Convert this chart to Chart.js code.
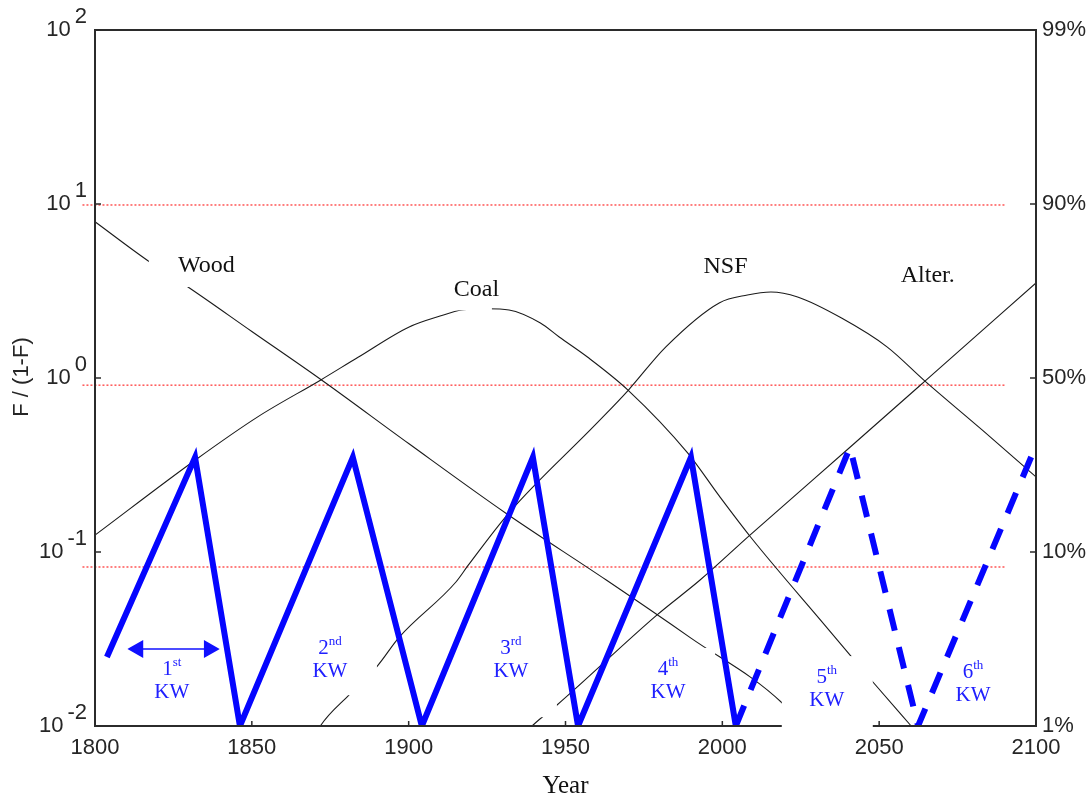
<!DOCTYPE html>
<html>
<head>
<meta charset="utf-8">
<script src="https://cdn.jsdelivr.net/npm/chart.js@4.4.1/dist/chart.umd.min.js"></script>
<style>
  html, body { margin: 0; padding: 0; background: #fff; }
  #wrap { width: 1092px; height: 798px; position: relative; }
</style>
</head>
<body>
<div id="wrap"><canvas id="myChart"></canvas></div>
<script>
// axis ticks
const xTicks = [1800, 1850, 1900, 1950, 2000, 2050, 2100];
const yTicks = [0.01, 0.1, 1, 10, 100];
const yExp = ['-2', '-1', '0', '1', '2'];
const rightLabels = ['1%', '10%', '50%', '90%', '99%'];

// substitution curves, F/(1-F)
const woodYears  = [1800, 1817, 1830, 1850, 1872, 1900, 1931, 1963, 1990, 2019, 2035];
const woodValues = [7.9, 4.7, 3.3, 1.85, 0.98, 0.42, 0.167, 0.069, 0.032, 0.0136, 0.0062];

const coalYears  = [1800, 1832, 1852, 1872, 1884, 1900, 1910, 1917, 1925, 1932, 1942, 1948, 1957, 1970, 1989, 1999, 2009, 2034, 2041, 2048, 2060, 2066];
const coalValues = [0.125, 0.338, 0.60, 0.975, 1.32, 1.96, 2.27, 2.46, 2.5, 2.46, 2.07, 1.72, 1.32, 0.85, 0.37, 0.21, 0.122, 0.0356, 0.0252, 0.0179, 0.0101, 0.0076];

const nsfYears  = [1868, 1872, 1881, 1890, 1897, 1915, 1919, 1932, 1960, 1970, 1982, 1999, 2008, 2015.5, 2024, 2038, 2052.5, 2064.6, 2083, 2100];
const nsfValues = [0.0074, 0.0101, 0.0151, 0.0221, 0.0324, 0.067, 0.084, 0.168, 0.55, 0.85, 1.51, 2.7, 3.0, 3.12, 2.92, 2.21, 1.51, 0.96, 0.50, 0.27];

const alterYears  = [1936, 1939.6, 1947.3, 1979.2, 1992.9, 2008.8, 2040.7, 2064.6, 2100];
const alterValues = [0.0086, 0.0101, 0.0132, 0.0435, 0.069, 0.125, 0.40, 0.96, 3.52];

// Kondratiev waves
const kwSolidYears  = [1803.8, 1831.9, 1846.2, 1882.2, 1904.2, 1939.6, 1954, 1990, 2004.3];
const kwSolidValues = [0.0249, 0.35, 0.01, 0.35, 0.01, 0.35, 0.01, 0.35, 0.01];
const kwDashedYears  = [2004.3, 2040.7, 2062.4, 2098.7];
const kwDashedValues = [0.01, 0.40, 0.01, 0.36];

const arrowYears  = [1813.7, 1836.4];
const arrowValues = [0.0277, 0.0277];

// red reference levels (90%, 50%, 10%)
const redLevels = [9.87, 0.91, 0.082];
const redSpan = [1796, 2090];

const pts = (xs, ys) => xs.map((x, i) => ({ x: x, y: ys[i] }));

function curve(xs, ys) {
  return {
    data: pts(xs, ys),
    borderColor: '#1a1a1a',
    borderWidth: 1.1,
    pointRadius: 0,
    cubicInterpolationMode: 'monotone'
  };
}

const datasets = [
  {
    data: pts(arrowYears, arrowValues),
    borderColor: '#1010ff',
    backgroundColor: '#1010ff',
    borderWidth: 1.5,
    pointStyle: 'triangle',
    pointRadius: 9,
    pointRotation: [270, 90],
    pointBackgroundColor: '#1010ff',
    pointBorderColor: '#1010ff'
  },
  {
    data: pts(kwSolidYears, kwSolidValues),
    borderColor: '#0505ff',
    borderWidth: 6,
    borderJoinStyle: 'miter',
    pointRadius: 0,
    clip: 0
  },
  {
    data: pts(kwDashedYears, kwDashedValues),
    borderColor: '#0505ff',
    borderWidth: 6,
    borderDash: [22, 17],
    borderJoinStyle: 'miter',
    pointRadius: 0,
    clip: 0
  },
  curve(woodYears, woodValues),
  curve(coalYears, coalValues),
  curve(nsfYears, nsfValues),
  curve(alterYears, alterValues)
];

redLevels.forEach(v => {
  datasets.push({
    data: pts(redSpan, [v, v]),
    borderColor: '#ff0000',
    borderWidth: 1,
    borderDash: [2, 2],
    pointRadius: 0,
    clip: false
  });
});

// text labels, anchored in data units; box = white patch [left, top, right, bottom] offsets in px
const nameLabels = [
  { text: 'Wood',   x: 1835.5, y: 4.43, box: [-57.5, -20.5, 38.5, 21.5] },
  { text: 'Coal',   x: 1921.6, y: 3.23, box: [-36, -17.5, 15.5, 21] },
  { text: 'NSF',    x: 2001,   y: 4.37 },
  { text: 'Alter.', x: 2065.5, y: 3.85 }
];
const kwLabels = [
  { n: '1', sup: 'st', x: 1824.5, y: 0.021 },
  { n: '2', sup: 'nd', x: 1874.9, y: 0.028,  box: [-40, -28, 47, 47] },
  { n: '3', sup: 'rd', x: 1932.6, y: 0.028,  box: [-41, -28, 46, 69] },
  { n: '4', sup: 'th', x: 1982.7, y: 0.021,  box: [-38, -22, 47, 40] },
  { n: '5', sup: 'th', x: 2033.3, y: 0.0191, box: [-45, -21, 46, 51] },
  { n: '6', sup: 'th', x: 2079.9, y: 0.0204 }
];

const overlay = {
  id: 'overlay',
  afterDraw(chart) {
    const ctx = chart.ctx;
    const a = chart.chartArea;
    const x = chart.scales.x, y = chart.scales.y;
    ctx.save();

    // frame and ticks
    ctx.strokeStyle = '#2b2b2b';
    ctx.lineWidth = 2;
    ctx.strokeRect(a.left, a.top, a.right - a.left, a.bottom - a.top);
    ctx.lineWidth = 1.5;
    ctx.beginPath();
    xTicks.forEach(v => {
      const px = x.getPixelForValue(v);
      ctx.moveTo(px, a.bottom); ctx.lineTo(px, a.bottom - 5);
    });
    yTicks.forEach(v => {
      const py = y.getPixelForValue(v);
      ctx.moveTo(a.left, py); ctx.lineTo(a.left + 6, py);
      ctx.moveTo(a.right, py); ctx.lineTo(a.right - 6, py);
    });
    ctx.stroke();

    // tick labels
    ctx.fillStyle = '#262626';
    ctx.font = '22px "Liberation Sans", Arial, sans-serif';
    ctx.textBaseline = 'middle';
    ctx.textAlign = 'center';
    xTicks.forEach(v => ctx.fillText(String(v), x.getPixelForValue(v), a.bottom + 22));
    yTicks.forEach((v, i) => {
      const py = y.getPixelForValue(v);
      const ex = a.left - 8;
      ctx.textAlign = 'right';
      ctx.fillText(yExp[i], ex, py - 13);
      const w = ctx.measureText(yExp[i]).width;
      ctx.fillText('10', ex - w - 4, py);
      ctx.textAlign = 'left';
      ctx.fillText(rightLabels[i], a.right + 6, py);
    });

    // axis titles
    ctx.textAlign = 'center';
    ctx.font = '25px "Liberation Serif", "Times New Roman", serif';
    ctx.fillStyle = '#111';
    ctx.textBaseline = 'alphabetic';
    ctx.fillText('Year', (a.left + a.right) / 2, 793);
    ctx.save();
    ctx.translate(22, 377);
    ctx.rotate(-Math.PI / 2);
    ctx.textBaseline = 'middle';
    ctx.font = '22px "Liberation Sans", Arial, sans-serif';
    ctx.fillStyle = '#262626';
    ctx.fillText('F / (1-F)', 0, 0);
    ctx.restore();

    // white patches behind labels
    ctx.fillStyle = '#fff';
    nameLabels.concat(kwLabels).forEach(l => {
      if (!l.box) return;
      const cx = x.getPixelForValue(l.x), cy = y.getPixelForValue(l.y);
      ctx.fillRect(cx + l.box[0], cy + l.box[1], l.box[2] - l.box[0], l.box[3] - l.box[1]);
    });

    // fuel names
    ctx.fillStyle = '#111';
    ctx.font = '24px "Liberation Serif", "Times New Roman", serif';
    ctx.textBaseline = 'middle';
    ctx.textAlign = 'center';
    nameLabels.forEach(l => ctx.fillText(l.text, x.getPixelForValue(l.x), y.getPixelForValue(l.y)));

    // KW labels with superscript
    ctx.fillStyle = '#2020ff';
    kwLabels.forEach(l => {
      const cx = x.getPixelForValue(l.x), cy = y.getPixelForValue(l.y);
      ctx.font = '21px "Liberation Serif", "Times New Roman", serif';
      const wn = ctx.measureText(l.n).width;
      ctx.font = '13px "Liberation Serif", "Times New Roman", serif';
      const ws = ctx.measureText(l.sup).width;
      const x0 = cx - (wn + ws) / 2;
      ctx.textAlign = 'left';
      ctx.font = '21px "Liberation Serif", "Times New Roman", serif';
      ctx.fillText(l.n, x0, cy);
      ctx.font = '13px "Liberation Serif", "Times New Roman", serif';
      ctx.fillText(l.sup, x0 + wn, cy - 7);
      ctx.font = '21px "Liberation Serif", "Times New Roman", serif';
      ctx.textAlign = 'center';
      ctx.fillText('KW', cx, cy + 23);
    });

    ctx.restore();
  }
};

new Chart(document.getElementById('myChart'), {
  type: 'line',
  data: { datasets: datasets },
  options: {
    responsive: true,
    maintainAspectRatio: false,
    animation: false,
    layout: { padding: { left: 95, right: 56, top: 30, bottom: 72 } },
    plugins: { legend: { display: false }, tooltip: { enabled: false } },
    scales: {
      x: { type: 'linear', min: 1800, max: 2100, display: false },
      y: { type: 'logarithmic', min: 0.01, max: 100, display: false }
    }
  },
  plugins: [overlay]
});
</script>
</body>
</html>
